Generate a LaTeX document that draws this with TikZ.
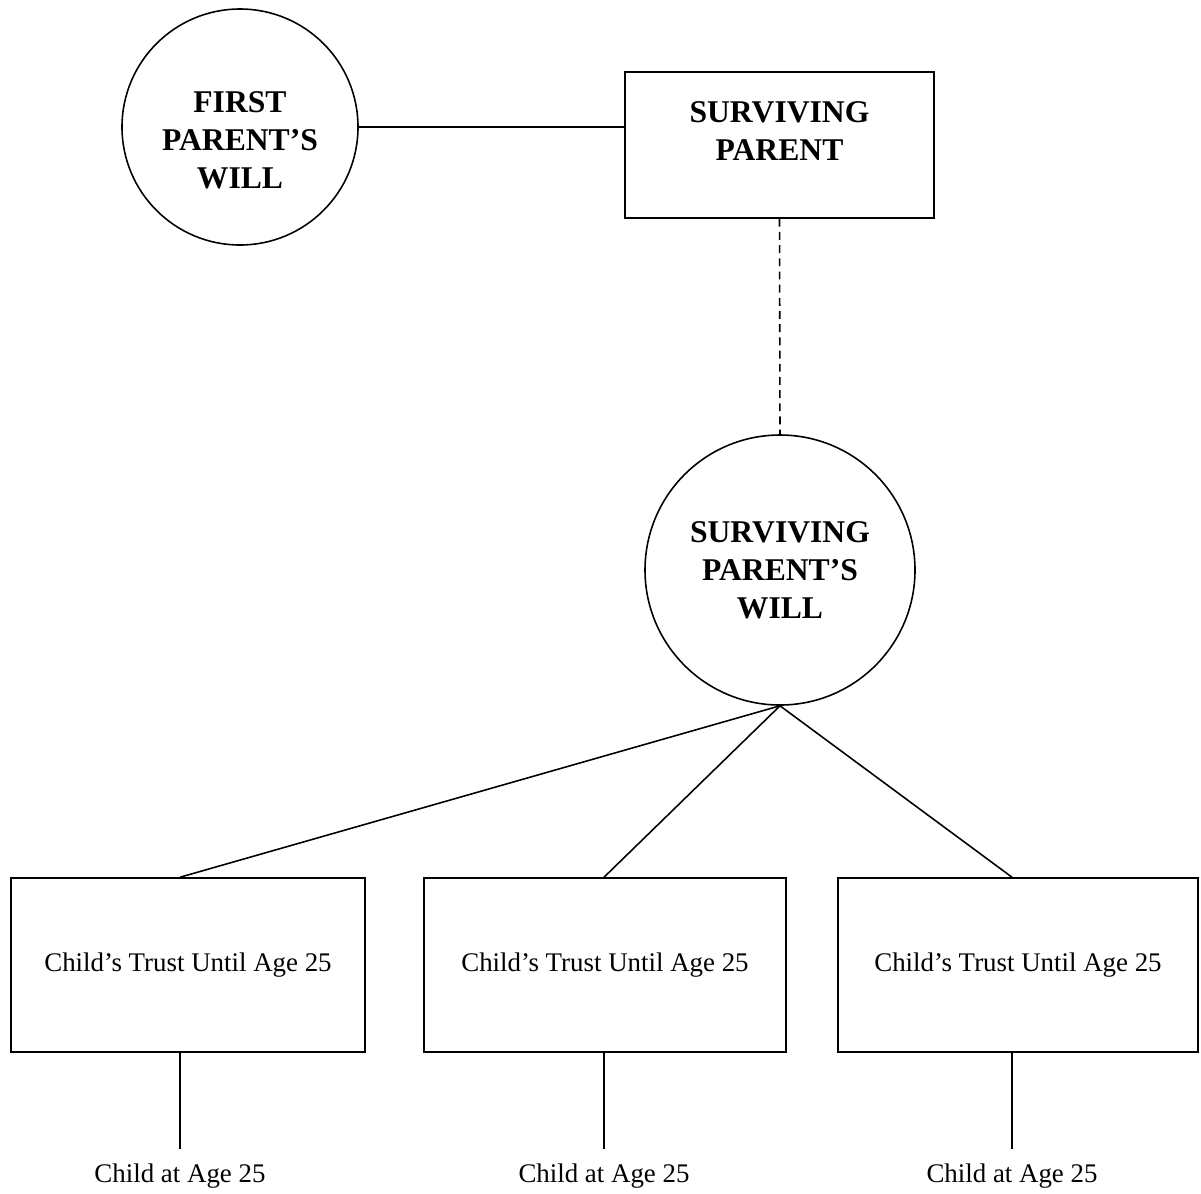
\documentclass[tikz,border=0pt]{standalone}
\usepackage{fontspec}
\setmainfont{Liberation Serif}
\begin{document}
\begin{tikzpicture}[line width=0.9pt,
    will/.style={draw,circle,align=center,inner sep=0pt,font=\bfseries\fontsize{18}{21.6}\selectfont},
    willtext/.style={align=center,font=\bfseries\fontsize{18}{21.6}\selectfont},
    party/.style={draw,rectangle},
    trust/.style={draw,rectangle,minimum height=3.48cm,font=\fontsize{15.3}{18}\selectfont},
    heir/.style={anchor=north,inner ysep=8pt,font=\fontsize{15.3}{18}\selectfont}]
  \useasboundingbox (0,0) rectangle (24.02,-23.86);
  \node[will,minimum size=4.72cm,label={[willtext,yshift=-0.26cm]center:FIRST\\PARENT'S\\WILL}] (fpw) at (4.8,-2.54) {};
  \node[party,minimum width=6.18cm,minimum height=2.92cm,label={[willtext,yshift=0.28cm]center:SURVIVING\\PARENT}] (sp) at (15.59,-2.9) {};
  \node[will,minimum size=5.4cm] (spw) at (15.6,-11.4) {SURVIVING\\PARENT'S\\WILL};
  \node[trust,minimum width=7.08cm] (t1) at (3.76,-19.3) {Child's Trust Until Age 25};
  \node[trust,minimum width=7.24cm] (t2) at (12.1,-19.3) {Child's Trust Until Age 25};
  \node[trust,minimum width=7.2cm] (t3) at (20.36,-19.3) {Child's Trust Until Age 25};
  \node[heir] (h1) at (3.6,-22.98) {Child at Age 25};
  \node[heir] (h2) at (12.08,-22.98) {Child at Age 25};
  \node[heir] (h3) at (20.24,-22.98) {Child at Age 25};
  \draw (fpw.east) -- (fpw.east -| sp.west);
  \draw[dash pattern=on 4.5pt off 3pt] (sp.south) -- (spw.north);
  \draw (spw.south) -- (h1.north |- t1.north);
  \draw (spw.south) -- (h2.north |- t2.north);
  \draw (spw.south) -- (h3.north |- t3.north);
  \draw (h1.north |- t1.south) -- (h1.north);
  \draw (h2.north |- t2.south) -- (h2.north);
  \draw (h3.north |- t3.south) -- (h3.north);
\end{tikzpicture}
\end{document}
